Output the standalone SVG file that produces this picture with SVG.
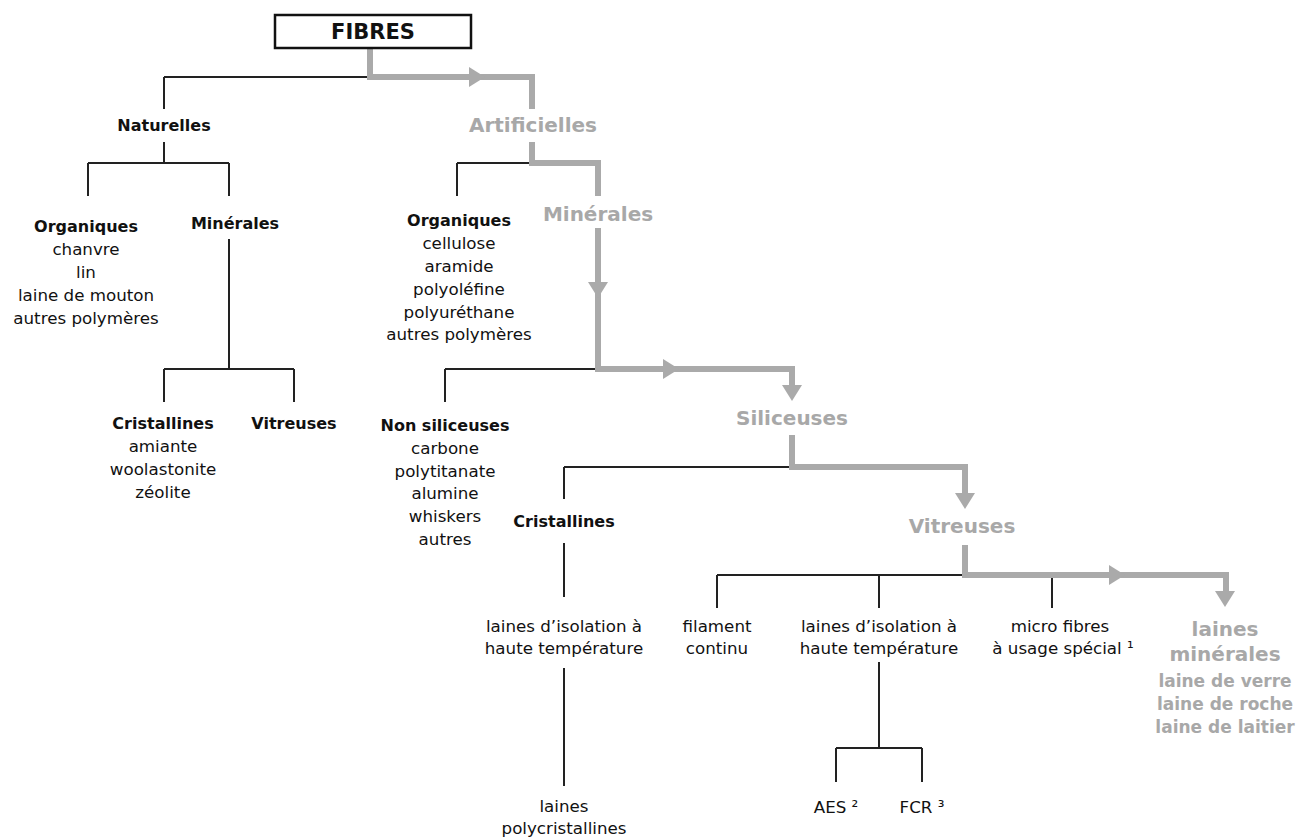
<svg xmlns="http://www.w3.org/2000/svg" xmlns:xlink="http://www.w3.org/1999/xlink" width="1299" height="839" viewBox="0 0 1299 839">
<style>
.bk{stroke:#222;stroke-width:2;fill:none}
.gr{stroke:#aaaaaa;stroke-width:6;fill:none;stroke-linejoin:miter}
.ah{fill:#aaaaaa}
text{font-family:"DejaVu Sans","Liberation Sans",sans-serif;text-anchor:middle}
.t{font-size:16.7px;fill:#111}
.b{font-size:16px;font-weight:bold;fill:#111}
.g{font-size:20px;font-weight:bold;fill:#a8a8a8}
.gs{font-size:17px;font-weight:bold;fill:#a8a8a8}
.h{font-size:21px;font-weight:bold;fill:#111}
</style>
<defs>
<polygon id="ar" points="-16,-10 0,0 -16,10"/>
</defs>
<rect width="1299" height="839" fill="#fff"/>
<g id="connectors">
<path class="bk" d="M164,77 H370 M164,77 V109"/>
<path class="bk" d="M164,142 V163 M88,163 H229 M88,163 V196 M229,163 V196"/>
<path class="bk" d="M229,239 V369 M164,369 H294 M164,369 V402 M294,369 V402"/>
<path class="bk" d="M457,163 H532 M457,163 V196"/>
<path class="bk" d="M445,369 H598 M445,369 V402"/>
<path class="bk" d="M564,467 H792 M564,467 V499 M564,543 V597 M564,668 V786"/>
<path class="bk" d="M717,575 H965 M717,575 V608 M879,575 V608 M1052,575 V608"/>
<path class="bk" d="M879,662 V748 M836,748 H922 M836,748 V782 M922,748 V782"/>
<path class="gr" d="M370,49 V77 H532 V109"/>
<path class="gr" d="M532,142 V163 H598 V196"/>
<path class="gr" d="M598,228 V369 H792 V392"/>
<path class="gr" d="M792,435 V467 H965 V500"/>
<path class="gr" d="M965,545 V575 H1226 V598"/>
<use xlink:href="#ar" class="ah" transform="translate(485,77)"/>
<use xlink:href="#ar" class="ah" transform="translate(598,298) rotate(90)"/>
<use xlink:href="#ar" class="ah" transform="translate(679,369)"/>
<use xlink:href="#ar" class="ah" transform="translate(792,401) rotate(90)"/>
<use xlink:href="#ar" class="ah" transform="translate(965,509) rotate(90)"/>
<use xlink:href="#ar" class="ah" transform="translate(1125,575)"/>
<use xlink:href="#ar" class="ah" transform="translate(1225,607) rotate(90)"/>
</g>
<g id="fibres">
<rect x="275" y="15" width="196" height="33" fill="#fff" stroke="#111" stroke-width="2.5"/>
<text class="h" x="373" y="39">FIBRES</text>
</g>
<g id="naturelles"><text class="b" x="164" y="131">Naturelles</text></g>
<g id="artificielles"><text class="g" x="533" y="132">Artificielles</text></g>
<g id="nat-organiques">
<text class="b" x="86" y="232">Organiques</text>
<text class="t" x="86" y="255">chanvre</text>
<text class="t" x="86" y="278">lin</text>
<text class="t" x="86" y="301">laine de mouton</text>
<text class="t" x="86" y="324">autres polymères</text>
</g>
<g id="nat-minerales"><text class="b" x="235" y="229">Minérales</text></g>
<g id="nat-cristallines">
<text class="b" x="163" y="429">Cristallines</text>
<text class="t" x="163" y="452">amiante</text>
<text class="t" x="163" y="475">woolastonite</text>
<text class="t" x="163" y="498">zéolite</text>
</g>
<g id="nat-vitreuses"><text class="b" x="294" y="429">Vitreuses</text></g>
<g id="art-organiques">
<text class="b" x="459" y="226">Organiques</text>
<text class="t" x="459" y="249">cellulose</text>
<text class="t" x="459" y="272">aramide</text>
<text class="t" x="459" y="295">polyoléfine</text>
<text class="t" x="459" y="318">polyuréthane</text>
<text class="t" x="459" y="340">autres polymères</text>
</g>
<g id="art-minerales"><text class="g" x="598" y="221">Minérales</text></g>
<g id="non-siliceuses">
<text class="b" x="445" y="431">Non siliceuses</text>
<text class="t" x="445" y="454">carbone</text>
<text class="t" x="445" y="477">polytitanate</text>
<text class="t" x="445" y="499">alumine</text>
<text class="t" x="445" y="522">whiskers</text>
<text class="t" x="445" y="545">autres</text>
</g>
<g id="siliceuses"><text class="g" x="792" y="425">Siliceuses</text></g>
<g id="sil-cristallines"><text class="b" x="564" y="527">Cristallines</text></g>
<g id="vitreuses"><text class="g" x="962" y="533">Vitreuses</text></g>
<g id="cri-laines-isolation">
<text class="t" x="564" y="632">laines d’isolation à</text>
<text class="t" x="564" y="654">haute température</text>
</g>
<g id="polycristallines">
<text class="t" x="564" y="812">laines</text>
<text class="t" x="564" y="834">polycristallines</text>
</g>
<g id="filament">
<text class="t" x="717" y="632">filament</text>
<text class="t" x="717" y="654">continu</text>
</g>
<g id="vit-laines-isolation">
<text class="t" x="879" y="632">laines d’isolation à</text>
<text class="t" x="879" y="654">haute température</text>
</g>
<g id="micro-fibres">
<text class="t" x="1060" y="632">micro fibres</text>
<text class="t" x="1063" y="654">à usage spécial ¹</text>
</g>
<g id="laines-minerales">
<text class="g" x="1225" y="636">laines</text>
<text class="g" x="1225" y="661">minérales</text>
<text class="gs" x="1225" y="687">laine de verre</text>
<text class="gs" x="1225" y="710">laine de roche</text>
<text class="gs" x="1225" y="733">laine de laitier</text>
</g>
<g id="aes"><text class="t" x="836" y="813">AES ²</text></g>
<g id="fcr"><text class="t" x="922" y="813">FCR ³</text></g>
</svg>
